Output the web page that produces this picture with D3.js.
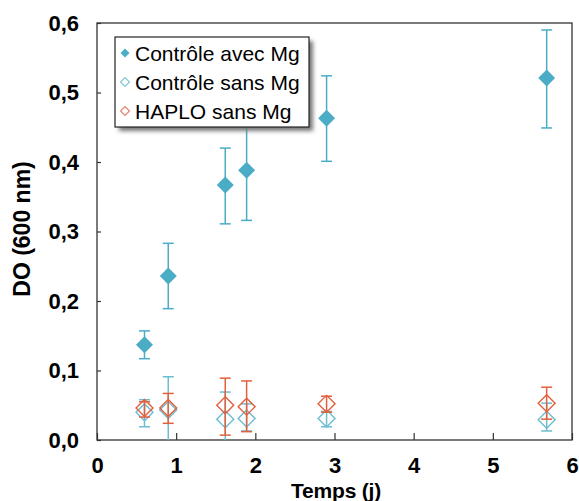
<!DOCTYPE html>
<html lang="fr">
<head>
<meta charset="utf-8">
<title>DO (600 nm)</title>
<script src="https://cdn.jsdelivr.net/npm/d3@7"></script>
<style>
  body { margin: 0; background: #fff; }
  text { font-family: "Liberation Sans", Arial, sans-serif; fill: #000; }
  .axis text { font-size: 22px; font-weight: bold; }
  .axis path { display: none; }
  .axis line { stroke: #333; stroke-width: 1.2; }
  .title { font-weight: bold; }
  .legend text { font-size: 21px; }
</style>
</head>
<body>
<script>
var w = 579, h = 501;

// data
var days = [0.6, 0.9, 1.62, 1.89, 2.9, 5.68];

var avecMg   = [0.137, 0.236, 0.367, 0.388, 0.463, 0.521];
var avecMgLo = [0.117, 0.189, 0.311, 0.316, 0.401, 0.449];
var avecMgHi = [0.157, 0.283, 0.420, 0.462, 0.524, 0.590];

var sansMg   = [0.040, 0.043, 0.030, 0.031, 0.031, 0.029];
var sansMgLo = [0.019, -0.006, -0.009, 0.013, 0.019, 0.013];
var sansMgHi = [0.058, 0.091, 0.069, 0.052, 0.041, 0.053];

var haplo   = [0.046, 0.046, 0.050, 0.048, 0.052, 0.053];
var haploLo = [0.033, 0.024, 0.007, 0.012, 0.040, 0.030];
var haploHi = [0.055, 0.067, 0.089, 0.085, 0.063, 0.076];

var xTicks = [0, 1, 2, 3, 4, 5, 6];
var yTicks = [0, 0.1, 0.2, 0.3, 0.4, 0.5, 0.6];

var seriesNames = ["Contrôle avec Mg", "Contrôle sans Mg", "HAPLO sans Mg"];

var series = [
  { name: seriesNames[0], v: avecMg, lo: avecMgLo, hi: avecMgHi, color: "#4bacc6", filled: true, legendColor: "#4bacc6" },
  { name: seriesNames[1], v: sansMg, lo: sansMgLo, hi: sansMgHi, color: "#6dbdd2", filled: false, legendColor: "#86c8da" },
  { name: seriesNames[2], v: haplo,  lo: haploLo,  hi: haploHi,  color: "#e2603d", filled: false, legendColor: "#e5866d" }
];

var padL = 97, padR = 572, padT = 23, padB = 440;

var x = d3.scaleLinear().domain([0, 6]).range([padL, padR]);
var y = d3.scaleLinear().domain([0, 0.6]).range([padB, padT]);

var svg = d3.select("body").append("svg")
  .attr("width", w)
  .attr("height", h);

var defs = svg.append("defs");
defs.append("clipPath").attr("id", "plotClip")
  .append("rect")
  .attr("x", padL).attr("y", padT)
  .attr("width", padR - padL).attr("height", padB - padT);
var blur = defs.append("filter").attr("id", "shadow")
  .attr("x", "-10%").attr("y", "-10%").attr("width", "130%").attr("height", "140%");
blur.append("feGaussianBlur").attr("stdDeviation", 2);

var fmt = function(d) { return d3.format(".1f")(d).replace(".", ","); };

var yAxis = d3.axisLeft(y).tickValues(yTicks).tickSize(-4).tickPadding(18).tickFormat(fmt);
var xAxis = d3.axisBottom(x).tickValues(xTicks).tickSize(-7).tickPadding(17).tickFormat(d3.format("d"));

svg.append("g")
  .attr("class", "axis")
  .attr("transform", "translate(" + padL + ",0)")
  .call(yAxis);

svg.append("g")
  .attr("class", "axis")
  .attr("transform", "translate(0," + padB + ")")
  .call(xAxis);

// plot frame
svg.append("rect")
  .attr("x", padL).attr("y", padT)
  .attr("width", padR - padL).attr("height", padB - padT)
  .attr("fill", "none")
  .attr("stroke", "#333")
  .attr("stroke-width", 1.3);

var diamond = d3.symbol().type(d3.symbolSquare).size(144);
var plot = svg.append("g").attr("clip-path", "url(#plotClip)");

series.forEach(function(s) {
  var g = plot.append("g");
  var pts = days.map(function(d, i) { return { x: d, v: s.v[i], lo: s.lo[i], hi: s.hi[i] }; });

  g.selectAll(".bar").data(pts).enter().append("line")
    .attr("x1", function(d) { return x(d.x); })
    .attr("x2", function(d) { return x(d.x); })
    .attr("y1", function(d) { return y(d.lo); })
    .attr("y2", function(d) { return y(d.hi); })
    .attr("stroke", s.color).attr("stroke-width", 1.5);

  ["lo", "hi"].forEach(function(k) {
    g.selectAll(".cap" + k).data(pts).enter().append("line")
      .attr("x1", function(d) { return x(d.x) - 5.5; })
      .attr("x2", function(d) { return x(d.x) + 5.5; })
      .attr("y1", function(d) { return y(d[k]); })
      .attr("y2", function(d) { return y(d[k]); })
      .attr("stroke", s.color).attr("stroke-width", 1.5);
  });

  g.selectAll(".pt").data(pts).enter().append("path")
    .attr("d", diamond)
    .attr("transform", function(d) { return "translate(" + x(d.x) + "," + y(d.v) + ") rotate(45)"; })
    .attr("fill", s.filled ? s.color : "none")
    .attr("stroke", s.filled ? "none" : s.color)
    .attr("stroke-width", 1.4);
});

// legend
var lg = svg.append("g").attr("class", "legend");
lg.append("rect")
  .attr("x", 119).attr("y", 41).attr("width", 194).attr("height", 90)
  .attr("fill", "#777")
  .attr("filter", "url(#shadow)");
lg.append("rect")
  .attr("x", 115).attr("y", 37).attr("width", 194).attr("height", 90)
  .attr("fill", "#fff")
  .attr("stroke", "#222")
  .attr("stroke-width", 1.2);

var smallDiamond = d3.symbol().type(d3.symbolSquare).size(40);
series.forEach(function(s, i) {
  var yy = 53 + i * 29;
  lg.append("path")
    .attr("d", smallDiamond)
    .attr("transform", "translate(125," + yy + ") rotate(45)")
    .attr("fill", s.filled ? s.legendColor : "none")
    .attr("stroke", s.filled ? "none" : s.legendColor)
    .attr("stroke-width", 1.2);
  lg.append("text")
    .attr("x", 135).attr("y", yy)
    .attr("dy", "0.36em")
    .text(s.name);
});

// axis titles
svg.append("text")
  .attr("class", "title")
  .attr("x", 336).attr("y", 498)
  .attr("text-anchor", "middle")
  .style("font-size", "21px")
  .style("letter-spacing", "-0.2px")
  .text("Temps (j)");

svg.append("text")
  .attr("class", "title")
  .attr("transform", "translate(30,229) rotate(-90)")
  .attr("text-anchor", "middle")
  .style("font-size", "23px")
  .text("DO (600 nm)");
</script>
</body>
</html>
